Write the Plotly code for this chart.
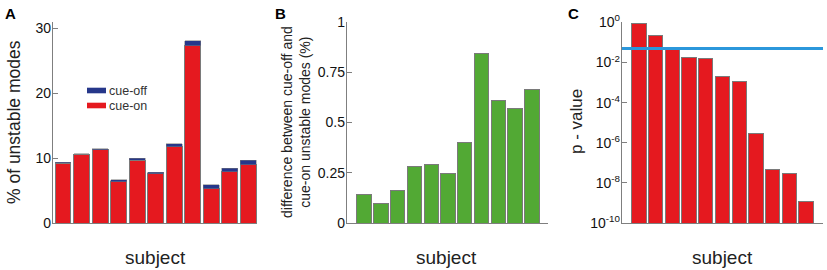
import plotly.graph_objects as go

subjects = list(range(1, 12))
# Panel A: % of unstable modes (stacked)
cue_on = [9.2, 10.6, 11.3, 6.4, 9.7, 7.6, 11.8, 27.3, 5.3, 7.9, 9.0]
cue_off = [0.14, 0.095, 0.16, 0.28, 0.29, 0.245, 0.40, 0.845, 0.61, 0.57, 0.665]
# Panel B: difference between cue-off and cue-on unstable modes (%)
diff = [0.14, 0.095, 0.16, 0.28, 0.29, 0.245, 0.40, 0.845, 0.61, 0.57, 0.665]
# Panel C: p-values
pvals = [0.9, 0.23, 0.047, 0.018, 0.015, 0.002, 0.0012, 2.8e-6, 4.7e-8, 2.8e-8, 1.2e-9]
alpha = 0.05

legend_names = ["cue-off", "cue-on"]
a_ticks = [0, 10, 20, 30]
b_ticks = [0, 0.25, 0.5, 0.75, 1]
b_ticktext = ["0", "0.25", "0.5", "0.75", "1"]
c_ticks = [1e-10, 1e-8, 1e-6, 1e-4, 1e-2, 1]
c_ticktext = ["10<sup>-10</sup>", "10<sup>-8</sup>", "10<sup>-6</sup>", "10<sup>-4</sup>", "10<sup>-2</sup>", "10<sup>0</sup>"]

RED = "#e5191f"
NAVY = "#26378a"
GREEN = "#52a934"
BLUE = "#2b97db"
EDGE = "#7a7a7a"
AX = "#7f7f7f"
FONT = "Liberation Sans, Arial, Helvetica, sans-serif"
W, H = 827, 270

xs = [s - 1 for s in subjects]
fig = go.Figure()
fig.add_trace(go.Bar(x=xs, y=cue_on, name="cue-on", showlegend=False,
                     marker=dict(color=RED, line=dict(color=EDGE, width=1)), xaxis="x", yaxis="y"))
fig.add_trace(go.Bar(x=xs, y=cue_off, name="cue-off", showlegend=False,
                     marker=dict(color=NAVY, line=dict(color=EDGE, width=0.5)), xaxis="x", yaxis="y"))
fig.add_trace(go.Bar(x=xs, y=diff, showlegend=False, marker=dict(color=GREEN, line=dict(color=EDGE, width=1)),
                     xaxis="x2", yaxis="y2"))
fig.add_trace(go.Bar(x=xs, y=pvals, showlegend=False, marker=dict(color=RED, line=dict(color=EDGE, width=1)),
                     xaxis="x3", yaxis="y3"))
fig.add_trace(go.Scatter(x=[-1.02, 11.02], y=[alpha, alpha], mode="lines", showlegend=False,
                         line=dict(color=BLUE, width=3), xaxis="x3", yaxis="y3"))

ydom = [0.174, 0.9185]
common_x = dict(showgrid=False, zeroline=False, showticklabels=False, ticks="", showline=True,
                linecolor=AX, linewidth=1.2, automargin=False)
common_y = dict(showgrid=False, zeroline=False, showline=True, linecolor=AX, linewidth=1.2, automargin=False,
                ticks="inside", ticklen=5, tickcolor=AX, ticklabelstandoff=-2,
                tickfont=dict(size=14, color="#111", family=FONT))

fig.update_layout(
    template="none",
    width=W, height=H, margin=dict(l=0, r=0, t=0, b=0, autoexpand=False),
    paper_bgcolor="white", plot_bgcolor="white",
    barmode="stack", bargap=0.14, showlegend=False, hovermode=False,
    font=dict(family=FONT, color="#111"),
    xaxis=dict(domain=[0.0641, 0.3108], range=[-0.54, 10.48], anchor="y", **common_x),
    yaxis=dict(domain=ydom, range=[0, 31], tickvals=a_ticks, anchor="x", **common_y),
    xaxis2=dict(domain=[0.4196, 0.6626], range=[-1.02, 10.96], anchor="y2", **common_x),
    yaxis2=dict(domain=ydom, range=[0, 1.0], tickvals=b_ticks, ticktext=b_ticktext, anchor="x2", **common_y),
    xaxis3=dict(domain=[0.7521, 0.9952], range=[-1.02, 11.02], anchor="y3", **common_x),
    yaxis3=dict(domain=ydom, type="log", range=[-10, 0.02], tickvals=c_ticks, ticktext=c_ticktext,
                anchor="x3", **common_y),
)

# manual legend (wide swatches as in the reference)
for name, col, yc in [(legend_names[0], NAVY, 90.5), (legend_names[1], RED, 105.5)]:
    fig.add_shape(type="rect", xref="paper", yref="paper",
                  x0=87 / W, x1=106 / W, y0=1 - (yc + 2.8) / H, y1=1 - (yc - 2.8) / H,
                  fillcolor=col, line=dict(width=0))
    fig.add_annotation(text=name, x=108 / W, y=1 - yc / H, xref="paper", yref="paper",
                       xanchor="left", yanchor="middle", showarrow=False, borderpad=0,
                       font=dict(size=12.5, family=FONT, color="#333"))

anns = [
    dict(text="<b>A</b>", x=10.5, y=13),
    dict(text="<b>B</b>", x=280.5, y=13),
    dict(text="<b>C</b>", x=573.5, y=13),
]
for a in anns:
    fig.add_annotation(text=a["text"], x=a["x"] / W, y=1 - a["y"] / H, xref="paper", yref="paper",
                       xanchor="center", yanchor="middle",
                       showarrow=False, font=dict(size=15, family=FONT, color="#000"))

labels = [
    dict(text="subject", x=155, y=257, size=19, angle=0),
    dict(text="subject", x=447, y=257, size=19, angle=0),
    dict(text="subject", x=722, y=257, size=19, angle=0),
    dict(text="% of unstable modes", x=14, y=122, size=17.5, angle=-90),
    dict(text="difference between cue-off and<br>cue-on unstable modes (%)", x=296, y=122, size=14, angle=-90),
    dict(text="p - value", x=576, y=122, size=17, angle=-90),
]
for l in labels:
    fig.add_annotation(text=l["text"], x=l["x"] / W, y=1 - l["y"] / H, xref="paper", yref="paper",
                       xanchor="center", yanchor="middle",
                       showarrow=False, textangle=l["angle"], font=dict(size=l["size"], family=FONT, color="#222"))

fig.write_html("out.html", config={"displayModeBar": False, "staticPlot": True},
               post_script="document.body.style.margin='0px';")
